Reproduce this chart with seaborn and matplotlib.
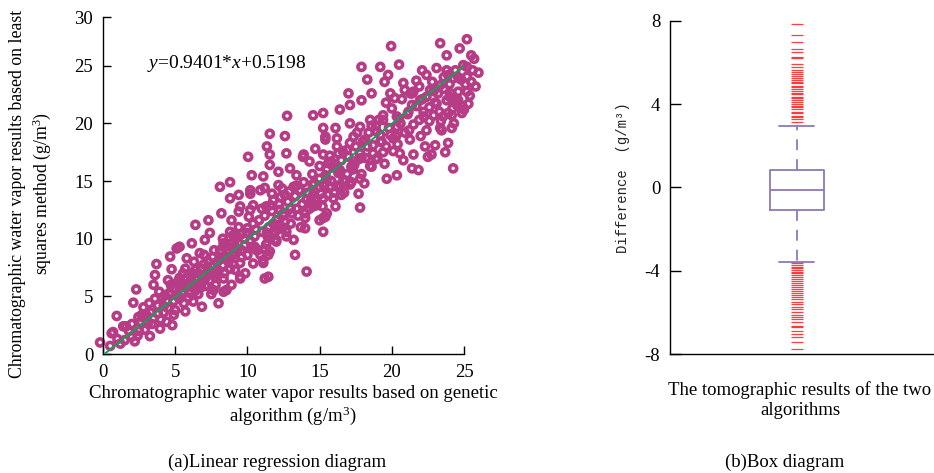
import numpy as np
import matplotlib
matplotlib.use("Agg")
import matplotlib.pyplot as plt
import seaborn as sns

# ---------------- data: (a) scatter ----------------
sc_x = [
    -0.2, 0.5, 0.6, 0.95, 1.2, 1.6, 2.0, 2.1, 2.2, 2.3, 2.45, 2.8, 2.9, 3.1, 3.25, 3.5, 3.6, 3.6, 3.7, 3.8,
    3.95, 4.2, 4.3, 4.4, 4.5, 4.65, 4.75, 4.8, 4.85, 5.0, 5.1, 5.2, 5.3, 5.55, 5.7, 5.8, 5.9, 6.15, 6.25, 6.4,
    6.6, 6.7, 6.85, 7.05, 7.3, 7.4, 7.65, 7.75, 7.9, 8.0, 8.1, 8.35, 8.35, 8.7, 8.9, 9.0, 9.15, 9.5, 9.6,
    0.7, 1.4, 3.0, 5.3, 6.4, 7.3, 8.2, 8.35, 8.55, 9.5, 11.2, 11.1, 10.65, 11.45, 12.0, 12.25, 13.3, 14.1, 13.2,
    14.0, 15.25, 15.4, 14.55, 12.7, 9.95, 9.25, 8.9, 9.5, 10.2, 11.3, 12.25,
    17.8, 17.7, 17.1, 16.5, 16.1, 15.5, 15.0, 14.0, 12.7, 12.0, 11.55, 11.1, 10.4, 9.85, 10.5, 11.35, 11.8,
    12.5, 13.4, 14.1, 14.55, 15.7, 16.4, 10.2, 10.9, 11.7, 12.4, 13.2,
    11.55, 12.6, 11.35, 10.05, 12.7, 11.55, 11.55, 13.9, 14.7, 15.4, 8.8, 8.1, 10.3, 11.1, 12.15, 12.95, 13.4,
    14.3, 15.25, 15.8, 16.2, 8.8, 9.4, 10.2, 11.2, 12.15, 9.4, 10.4, 11.8, 12.6, 13.65, 14.55, 15.4, 15.25,
    15.25, 11.9, 11.2, 11.45, 9.15, 8.35, 7.05,
    17.9, 19.2, 20.5, 14.55, 17.0, 18.3, 19.75, 22.1, 23.8, 24.95, 26.0, 25.2, 24.25, 25.3, 24.85, 24.15, 23.9,
    24.25, 22.5, 21.5, 21.85, 20.35, 19.65, 21.25, 23.0, 23.35, 22.4, 19.5, 19.4, 18.7, 17.8, 15.8, 15.95, 15.0,
    13.85, 15.4, 16.2, 16.1, 15.25, 15.25, 16.4, 17.1, 17.9, 18.6, 19.5, 19.9, 20.8, 21.5, 21.95, 22.65, 23.35,
    24.0, 24.6, 23.1, 23.9, 22.9, 22.2, 21.15, 20.35, 19.4, 18.5, 17.8, 17.1, 18.95, 20.35, 20.1, 19.2, 18.15,
    17.35, 16.9, 17.8, 16.3, 17.2, 16.4, 15.6, 16.65, 18.6, 20.55, 23.55, 21.4,
    19.95, 23.35, 24.7, 25.2, 25.5, 23.8, 25.8, 25.2, 24.4, 24.15, 23.45, 21.4, 24.5, 22.75, 12.75,
    1.0, 1.5, 1.8, 2.5, 2.6, 3.0, 3.3, 3.4, 3.8, 4.0, 4.1, 4.5, 4.6, 4.9, 5.0, 5.2, 5.4, 5.5, 5.6, 5.8,
    6.0, 6.0, 6.2, 6.3, 6.5, 6.6, 6.8, 6.9, 7.0, 7.1, 7.2, 7.4, 7.5, 7.6, 7.8, 7.9, 8.0, 8.2, 8.3, 8.5,
    8.6, 8.8, 8.9, 9.0, 9.2, 9.3, 9.5, 9.6, 9.8, 10.0, 10.0, 10.2, 10.4, 10.5, 10.7, 10.8, 11.0, 11.2, 11.3, 11.5,
    11.7, 11.9, 12.0, 12.2, 12.4, 12.5, 12.8, 13.0, 13.0, 13.3, 13.5, 13.6, 13.8, 14.0, 14.2, 14.4, 14.6, 14.8,
    15.0, 15.1, 15.3, 15.5, 15.6, 15.8, 16.0, 16.2, 16.3, 16.5, 16.7, 16.9, 17.0, 17.2, 17.4, 17.5, 17.7, 17.9,
    18.0, 18.2, 18.4, 18.5, 18.7, 18.9, 19.0, 19.2, 19.4, 19.6, 19.8, 20.0, 20.1, 20.3, 20.5, 20.7, 20.9, 21.1,
    21.3, 21.5, 21.7, 21.9, 22.0, 22.2, 22.4, 22.6, 22.8, 23.0, 23.2, 23.4, 23.6, 23.8, 24.0, 24.2, 24.4, 24.6,
    24.8, 25.0, 25.2, 25.5, 25.7,
    2.0, 2.4, 2.7, 3.2, 3.5, 3.9, 4.2, 4.4, 4.7, 4.9, 5.1, 5.3, 5.6, 5.7, 5.9, 6.1, 6.3, 6.4, 6.6, 6.8,
    7.0, 7.1, 7.3, 7.5, 7.7, 7.8, 8.1, 8.3, 8.4, 8.6, 8.8, 9.0, 9.1, 9.4, 9.6, 9.8, 10.1, 10.3, 10.6, 10.9,
    11.0, 11.4, 11.6, 12.1, 12.3, 12.6, 12.9, 13.1, 13.4, 13.7, 13.9, 14.3, 14.5, 14.7, 15.0, 15.2, 15.5, 15.7,
    16.0, 16.2, 16.6, 16.8, 17.1, 17.3, 17.6, 17.9, 18.1, 18.3, 18.6, 18.9, 19.1, 19.3, 19.6, 19.9, 20.2, 20.4,
    20.6, 20.9, 21.2, 21.4, 21.7, 21.9, 22.1, 22.4, 22.6, 22.9, 23.1, 23.3, 23.6, 23.9, 24.1, 24.3, 24.6, 24.9,
    25.1, 25.4, 25.6, 22.3, 20.8, 23.7,
]
sc_y = [
    1.0, 0.7, 1.8, 3.3, 0.9, 2.4, 1.5, 4.45, 1.1, 5.6, 3.2, 4.05, 2.1, 2.65, 1.55, 6.0, 6.85, 4.8, 7.8, 3.5,
    2.2, 4.15, 5.1, 2.8, 6.4, 8.45, 7.35, 2.5, 5.7, 3.8, 9.15, 6.3, 4.8, 7.0, 3.7, 8.3, 5.85, 9.6, 4.55, 7.3,
    6.0, 8.75, 4.1, 6.7, 8.0, 10.5, 5.55, 6.7, 7.3, 4.4, 9.0, 5.4, 6.55, 8.0, 6.0, 10.3, 7.3, 6.55, 9.0,
    1.9, 2.4, 3.4, 9.3, 11.2, 11.6, 12.2, 8.45, 5.55, 6.7, 6.55, 7.9, 9.0, 8.6, 9.75, 11.2, 8.6, 7.15, 9.9,
    10.9, 10.6, 11.9, 12.8, 10.2, 10.5, 10.2, 11.6, 12.8, 12.5, 12.8, 12.5,
    12.7, 13.9, 14.7, 13.8, 12.8, 12.2, 11.6, 11.8, 10.6, 9.9, 8.9, 8.15, 7.85, 7.0, 9.3, 10.5, 11.3,
    12.2, 12.6, 13.4, 13.8, 14.5, 14.5, 13.9, 14.2, 13.9, 14.35, 14.5,
    19.1, 18.9, 18.0, 17.1, 17.4, 17.3, 16.4, 17.3, 17.8, 18.85, 14.9, 14.5, 15.5, 15.4, 15.8, 16.1, 15.5,
    16.7, 17.3, 16.7, 18.0, 13.5, 13.8, 14.2, 14.4, 14.65, 12.35, 12.9, 13.35, 13.8, 14.2, 14.65, 15.5, 13.5,
    11.8, 9.9, 9.15, 6.7, 8.75, 9.6, 9.9,
    24.9, 24.9, 25.1, 20.7, 22.6, 23.8, 24.2, 24.6, 24.6, 25.05, 24.4, 24.05, 23.9, 21.7, 20.9, 19.6, 18.3,
    16.1, 17.1, 17.3, 15.95, 15.5, 15.2, 18.6, 18.1, 19.6, 19.4, 16.5, 17.5, 17.4, 15.2, 14.5, 13.5, 14.5,
    17.1, 18.6, 18.7, 19.6, 19.6, 20.9, 21.2, 21.6, 22.0, 22.6, 23.6, 22.6, 23.5, 22.75, 22.0, 22.9, 23.3,
    22.3, 22.75, 21.7, 20.9, 20.7, 20.6, 21.0, 20.6, 20.3, 20.3, 19.7, 20.0, 19.3, 19.7, 18.7, 18.4, 18.6,
    18.85, 17.7, 17.4, 17.4, 16.25, 15.95, 16.55, 15.1, 16.25, 17.4, 20.6, 16.1,
    26.7, 26.95, 26.5, 27.3, 25.9, 25.9, 23.2, 22.75, 21.9, 20.7, 19.4, 22.6, 21.6, 17.3, 20.65,
    1.3, 1.2, 2.0, 2.0, 2.8, 2.9, 3.6, 2.6, 4.2, 3.0, 4.9, 4.0, 5.3, 4.6, 5.6, 5.0, 6.0, 5.4, 4.4, 6.6,
    5.3, 6.2, 7.0, 5.9, 6.6, 5.2, 7.4, 6.3, 7.8, 5.9, 7.0, 6.4, 7.6, 8.4, 6.0, 8.0, 7.2, 8.8, 7.7, 9.3,
    8.3, 7.4, 9.6, 8.6, 10.0, 9.0, 7.9, 10.4, 9.4, 8.6, 10.9, 9.8, 11.3, 10.2, 9.0, 11.6, 10.6, 12.0, 9.5, 11.0,
    12.4, 10.6, 11.6, 13.0, 10.9, 12.0, 13.2, 11.3, 12.6, 13.7, 12.0, 14.2, 13.0, 12.2, 14.0, 13.3, 14.8, 12.9,
    15.2, 13.9, 14.6, 16.0, 13.8, 15.0, 16.2, 14.6, 15.7, 16.8, 14.0, 15.6, 17.1, 14.9, 16.4, 18.0, 16.9, 15.6,
    18.4, 17.0, 19.2, 16.3, 18.1, 19.8, 17.0, 19.0, 20.7, 18.0, 19.6, 21.3, 17.6, 18.9, 20.4, 22.1, 19.2, 20.8,
    22.6, 19.9, 21.5, 23.2, 18.9, 21.0, 22.3, 20.2, 23.6, 21.8, 22.6, 20.2, 24.0, 22.0, 23.4, 21.3, 24.6, 22.0,
    23.8, 21.2, 24.9, 23.6, 25.6,
    2.6, 1.6, 3.4, 4.4, 3.1, 5.4, 3.6, 4.6, 6.0, 3.4, 5.1, 6.6, 5.8, 7.4, 4.9, 6.6, 8.0, 5.5, 7.0, 5.8,
    8.6, 6.6, 7.3, 5.2, 9.0, 7.0, 8.2, 10.0, 7.0, 9.0, 10.6, 7.8, 9.4, 11.0, 8.4, 10.0, 11.9, 9.3, 10.8, 8.6,
    12.6, 10.2, 12.9, 10.8, 13.6, 11.5, 14.1, 12.2, 14.6, 11.0, 14.9, 12.6, 15.6, 13.5, 16.3, 12.8, 15.2, 17.2,
    14.0, 16.0, 17.6, 15.0, 18.3, 16.0, 19.2, 17.0, 14.8, 18.0, 19.8, 16.9, 20.3, 18.4, 21.8, 19.0, 22.2, 18.2,
    20.0, 22.9, 19.4, 21.6, 23.7, 20.3, 22.1, 24.2, 21.4, 22.8, 24.8, 21.0, 23.0, 24.2, 22.6, 20.0, 24.0, 21.5,
    23.4, 22.4, 24.6, 18.0, 16.8, 17.5,
]

# fitted line as drawn in the picture
reg_x = [0.1, 25.8]
reg_y = [0.0, 25.8]
equation = r"$y$=0.9401*$x$+0.5198"

x_ticks = [0, 5, 10, 15, 20, 25]
y_tick_labels = ["0", "5", "10", "15", "20", "25", "30"]

# ---------------- data: (b) differences for the box plot ----------------
diff_low_outliers = [-7.76, -7.41, -7.20, -7.04, -6.88, -6.72, -6.66, -6.45, -6.34, -6.24, -6.13, -5.99,
                     -5.86, -5.73, -5.60, -5.49, -5.38, -5.28, -5.18, -5.09, -4.99, -4.90, -4.80, -4.70,
                     -4.61, -4.51, -4.42, -4.32, -4.23, -4.13, -4.05, -3.97, -3.89, -3.81, -3.73, -3.65]
diff_core_low = [-3.6, -2.5, -1.7, -1.1]
diff_core_mid = [-1.1, -1.05, -1.0, -0.98, -0.95, -0.92, -0.9, -0.87, -0.85, -0.82, -0.8, -0.78, -0.75,
                 -0.72, -0.7, -0.68, -0.65, -0.62, -0.6, -0.57, -0.55, -0.52, -0.5, -0.47, -0.45, -0.42,
                 -0.4, -0.38, -0.35, -0.33, -0.3, -0.28, -0.26, -0.24, -0.22, -0.2, -0.18, -0.16, -0.15,
                 -0.13, -0.13,
                 -0.1, -0.07, -0.05, -0.02, 0.0, 0.02, 0.05, 0.07, 0.1, 0.12, 0.15, 0.17, 0.2, 0.22, 0.25,
                 0.27, 0.3, 0.32, 0.35, 0.37, 0.4, 0.42, 0.45, 0.47, 0.5, 0.52, 0.55, 0.57, 0.6, 0.62,
                 0.65, 0.67, 0.7, 0.72, 0.75, 0.77, 0.8, 0.82, 0.83]
diff_core_high = [0.83, 1.9, 2.96]
diff_high_outliers = [3.15, 3.26, 3.36, 3.44, 3.55, 3.63, 3.74, 3.84, 3.90, 4.00, 4.11, 4.19, 4.27, 4.35,
                      4.46, 4.54, 4.64, 4.70, 4.80, 4.86, 4.99, 5.07, 5.15, 5.23, 5.34, 5.44, 5.55, 5.63,
                      5.79, 5.92, 6.19, 6.27, 6.51, 6.62, 6.99, 7.31, 7.82]
b_ticks = [-8, -4, 0, 4, 8]

# ---------------- style ----------------
PINK = "#B63C86"
GREEN = "#1A9E55"
PURPLE = "#8C78BA"
FS = 13.5

sns.set_style("ticks")
plt.rcParams["font.family"] = ["Liberation Serif", "DejaVu Serif"]
plt.rcParams["mathtext.fontset"] = "custom"
plt.rcParams["mathtext.rm"] = "Liberation Serif"
plt.rcParams["mathtext.it"] = "Liberation Serif:italic"
plt.rcParams["mathtext.bf"] = "Liberation Serif:bold"
plt.rcParams["axes.linewidth"] = 1.0
plt.rcParams["text.color"] = "black"

W, H = 934, 473
fig = plt.figure(figsize=(W / 100, H / 100), dpi=100)
ax1 = fig.add_axes([103 / W, 1 - 354 / H, 361 / W, (354 - 17.3) / H])
ax2 = fig.add_axes([670 / W, 1 - 354 / H, 264 / W, (354 - 20.7) / H])

# ---------------- (a) scatter + regression ----------------
sns.scatterplot(x=sc_x, y=sc_y, ax=ax1, s=26, marker="o", facecolor="none",
                edgecolor=PINK, linewidth=2.6, clip_on=False, zorder=2, legend=False)
sns.lineplot(x=reg_x, y=reg_y, ax=ax1, color=GREEN, linewidth=1.4, zorder=3)
ax1.set_xlim(0, 25)
ax1.set_ylim(0, 29.2)
ax1.set_xticks(x_ticks)
ax1.set_xticklabels([str(t) for t in x_ticks])
ax1.set_yticks([0, 5, 10, 15, 20, 25, 29.2])
ax1.set_yticklabels(y_tick_labels)
for s in ("top", "right"):
    ax1.spines[s].set_visible(False)
for s in ("left", "bottom"):
    ax1.spines[s].set_color("black")
ax1.tick_params(direction="in", length=5.5, width=1, labelsize=FS, pad=7, colors="black")
ax1.set_xlabel("")
ax1.set_ylabel("")
ax1.text(3.05, 25.2, equation, fontsize=14, ha="left", va="center")

fig.text(293 / W, 1 - 406 / H,
         "Chromatographic water vapor results based on genetic\nalgorithm (g/m$^3$)",
         ha="center", va="center", fontsize=FS, linespacing=1.2)
fig.text(31 / W, 1 - 194 / H,
         "Chromatographic water vapor results based on least\nsquares method (g/m$^3$)",
         ha="center", va="center", rotation=90, fontsize=12.8, linespacing=1.25)
fig.text(277 / W, 1 - 462 / H, "(a)Linear regression diagram", ha="center", va="center", fontsize=FS)

# ---------------- (b) box plot ----------------
diff = diff_low_outliers + diff_core_low + diff_core_mid + diff_core_high + diff_high_outliers
n = len(diff)
lo_pct = 100 * (len(diff_low_outliers) - 0.5) / (n - 1)
hi_pct = 100 * (n - len(diff_high_outliers) - 0.5) / (n - 1)
box_w = 0.205
cap_w = 0.133
sns.boxplot(y=diff, ax=ax2, whis=(lo_pct, hi_pct), width=box_w, fill=False, color=PURPLE,
            linewidth=1.3,
            whiskerprops=dict(linestyle=(0, (6, 5))),
            flierprops=dict(marker="_", markeredgecolor="#FF0000", markersize=8,
                            markeredgewidth=0.9, alpha=0.75))
for ln in ax2.lines:
    xd = np.asarray(ln.get_xdata(), dtype=float)
    yd = np.asarray(ln.get_ydata(), dtype=float)
    if len(xd) == 2 and xd[0] != xd[1] and yd[0] == yd[1] and abs(xd[1] - xd[0]) < 0.9 * box_w:
        c = (xd[0] + xd[1]) / 2
        ln.set_xdata([c - cap_w / 2, c + cap_w / 2])
ax2.set_xlim(-0.48, 0.52)
ax2.set_ylim(-8, 8)
ax2.set_xticks([])
ax2.set_yticks(b_ticks)
ax2.set_yticklabels([str(t) for t in b_ticks])
for s in ("top", "right"):
    ax2.spines[s].set_visible(False)
for s in ("left", "bottom"):
    ax2.spines[s].set_color("black")
ax2.tick_params(axis="y", direction="in", length=8, width=1, labelsize=FS, pad=7, colors="black")
ax2.set_xlabel("")
ax2.set_ylabel("")

fig.text(623 / W, 1 - 178 / H, "Difference  (g/m³)", rotation=90, ha="center", va="center",
         fontsize=10, family=["Liberation Mono", "DejaVu Sans Mono"], color="#222222")
fig.text(800 / W, 1 - 400 / H, "The tomographic results of the two\nalgorithms",
         ha="center", va="center", fontsize=FS, linespacing=1.2)
fig.text(785 / W, 1 - 462 / H, "(b)Box diagram", ha="center", va="center", fontsize=FS)

fig.savefig("out.png", dpi=100)
